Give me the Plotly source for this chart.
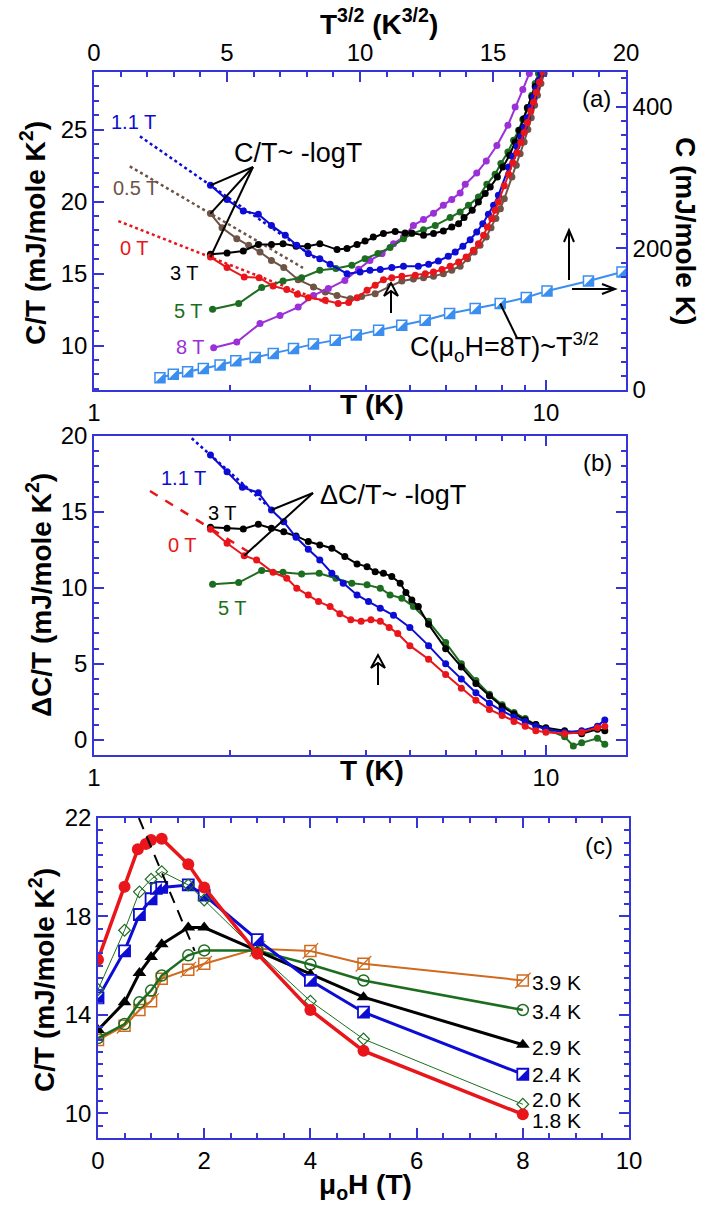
import numpy as np
import plotly.graph_objects as go

W, H = 704, 1207
FONT = "Liberation Sans, Arial, sans-serif"
AXC = "#3535d8"

RED, BLUE, BLACK = "#e8161b", "#0c0cd4", "#000000"
GREEN, BROWN, PURPLE = "#1d6d20", "#6f5347", "#9b30d8"
SKY, ORANGE = "#3a8ef0", "#cf6a1e"

# ---------------- (a) C/T versus T at fixed field ----------------
A_T_0T = [1.81, 1.97, 2.15, 2.32, 2.49, 2.67, 2.82, 2.98, 3.25, 3.47, 3.66, 3.82, 4.02, 4.19, 4.37,
          4.56, 4.80, 5.14, 5.41, 5.64, 5.89, 6.14, 6.41, 6.66, 6.91, 7.09, 7.28, 7.42, 7.59, 7.72,
          7.85, 8.09, 8.27, 8.45, 8.63, 8.80, 8.95, 9.10, 9.26, 9.39, 9.52, 9.68, 9.85]
A_CT_0T = [16.15, 15.42, 14.76, 14.72, 14.14, 13.89, 13.56, 13.33, 13.15, 12.92, 13.00, 13.33, 13.84,
           14.19, 14.58, 14.72, 14.81, 14.88, 15.00, 15.11, 15.28, 15.51, 15.81, 16.15, 16.62, 17.08,
           17.66, 18.24, 18.82, 19.40, 19.97, 21.1, 21.9, 22.7, 23.4, 24.1, 24.8, 25.5, 26.3, 26.9,
           27.6, 28.3, 29.0]

A_T_05T = [1.81, 1.92, 2.07, 2.20, 2.33, 2.47, 2.63, 2.83, 3.06, 3.25, 3.45, 3.69, 3.91, 4.19, 4.52,
           4.80, 5.09, 5.36, 5.64, 5.93, 6.19, 6.46, 6.71, 6.94, 7.15, 7.38, 7.56, 7.75, 7.93, 8.09,
           8.41, 8.60, 8.77, 8.95, 9.12, 9.28, 9.44, 9.58, 9.75, 9.91]
A_CT_05T = [19.17, 18.19, 17.43, 16.97, 16.50, 15.92, 15.42, 14.58, 14.07, 13.72, 13.49, 13.26, 13.42,
            13.61, 14.12, 14.49, 14.63, 14.72, 14.81, 15.00, 15.23, 15.51, 16.04, 16.50, 16.97, 17.54,
            18.19, 18.82, 19.51, 20.20, 21.71, 22.52, 23.33, 24.14, 25.00, 25.83, 26.69, 27.38, 28.2,
            28.9]

A_T_11T = [1.81, 1.97, 2.14, 2.31, 2.47, 2.65, 2.81, 2.98, 3.16, 3.33, 3.63, 3.88, 4.08, 4.30, 4.56,
           4.84, 5.22, 5.50, 5.78, 6.08, 6.30, 6.55, 6.80, 7.03, 7.25, 7.46, 7.66, 7.85, 8.27, 8.45,
           8.63, 8.80, 8.95, 9.10, 9.26, 9.39, 9.52, 9.63, 9.75]
A_CT_11T = [21.13, 20.14, 19.35, 19.12, 18.35, 17.66, 16.97, 16.39, 16.04, 15.65, 15.00, 15.11, 15.23,
            15.28, 15.42, 15.51, 15.51, 15.65, 15.88, 16.20, 16.50, 16.90, 17.36, 17.89, 18.47, 19.12,
            19.74, 20.44, 22.40, 23.15, 23.84, 24.53, 25.18, 25.83, 26.57, 27.27, 27.85, 28.4, 28.9]

A_T_3T = [1.81, 1.97, 2.14, 2.31, 2.47, 2.62, 2.80, 2.97, 3.16, 3.45, 3.63, 3.82, 3.98, 4.15, 4.37,
          4.64, 4.88, 5.05, 5.36, 5.64, 5.93, 6.19, 6.41, 6.59, 6.87, 7.09, 7.34, 7.53, 7.81, 8.03,
          8.31, 8.55, 8.74, 8.93, 9.10, 9.31, 9.47, 9.63, 9.76]
A_CT_3T = [16.34, 16.43, 16.57, 17.03, 17.03, 17.08, 16.90, 16.90, 17.08, 16.67, 16.74, 17.03, 17.26,
           17.54, 17.78, 17.92, 17.82, 17.82, 17.66, 17.78, 17.96, 18.24, 18.47, 18.89, 19.40, 19.97,
           20.56, 21.01, 21.71, 22.40, 23.22, 24.14, 24.95, 25.76, 26.53, 27.27, 28.0, 28.4, 28.9]

A_T_5T = [1.83, 2.09, 2.35, 2.62, 2.88, 3.16, 3.43, 3.72, 3.98, 4.25, 4.52, 4.84, 5.05, 5.36, 5.69,
          6.14, 6.46, 6.74, 7.09, 7.40, 7.72, 7.95, 8.24, 8.48, 8.70, 8.89, 9.10, 9.31, 9.47, 9.63]
A_CT_5T = [12.52, 12.92, 14.03, 14.49, 14.72, 15.23, 15.35, 15.58, 16.04, 16.40, 16.81, 17.43, 17.78,
           18.05, 18.35, 18.89, 19.28, 19.74, 20.32, 21.20, 21.90, 22.64, 23.44, 24.26, 24.95, 25.70,
           26.46, 27.38, 28.2, 28.9]

A_T_8T = [1.84, 2.07, 2.33, 2.58, 2.83, 3.06, 3.30, 3.59, 3.85, 4.08, 4.34, 4.60, 4.84, 5.09, 5.36,
          5.64, 5.93, 6.19, 6.46, 6.63, 7.03, 7.38, 7.79, 8.24, 8.55, 8.89, 9.19]
A_CT_8T = [9.86, 10.25, 11.53, 12.10, 12.68, 13.49, 13.96, 14.53, 15.30, 15.92, 16.39, 17.08, 17.54,
           18.35, 18.75, 19.20, 19.74, 20.14, 20.60, 21.20, 21.99, 22.82, 23.90, 25.30, 26.57, 27.78,
           28.9]

# -logT fits (end points)
A_FIT_0T_T, A_FIT_0T_CT = [1.132, 3.3], [18.65, 12.93]
A_FIT_05T_T, A_FIT_05T_CT = [1.20, 2.9], [22.45, 15.40]
A_FIT_11T_T, A_FIT_11T_CT = [1.264, 3.2], [24.53, 15.74]

# C at 8 T against T^(3/2)
A_T32_8T = [2.48, 2.98, 3.52, 4.11, 4.74, 5.33, 6.06, 6.74, 7.50, 8.25, 9.07, 9.86, 10.70, 11.57,
            12.45, 13.37, 14.33, 15.27, 16.25, 17.03, 18.59, 19.85]
A_C_8T = [17.3, 22.1, 25.8, 30.5, 35.2, 41.3, 46.0, 51.7, 58.7, 64.8, 70.4, 77.5, 84.5, 91.5, 98.6,
          108.0, 115.0, 122.1, 130.5, 139.9, 154.0, 166.7]

# ---------------- (b) magnetic part dC/T ----------------
B_T_0T = [1.81, 1.97, 2.15, 2.29, 2.49, 2.67, 2.81, 2.98, 3.14, 3.33, 3.50, 3.70, 3.90, 4.10, 4.30,
          4.50, 4.70, 5.00, 5.50, 6.00, 6.50, 7.00, 7.50, 8.00, 8.50, 9.00, 9.50, 10.0, 11.0, 12.0,
          13.0, 13.5]
B_V_0T = [13.86, 12.94, 12.12, 11.84, 11.03, 10.64, 9.98, 9.54, 9.10, 8.77, 8.30, 7.90, 7.80, 7.90,
          7.80, 7.40, 7.00, 6.20, 5.30, 4.30, 3.40, 2.60, 2.00, 1.60, 1.20, 0.90, 0.60, 0.50, 0.40,
          0.50, 0.80, 0.90]

B_T_11T = [1.81, 1.97, 2.13, 2.31, 2.47, 2.63, 2.80, 2.98, 3.16, 3.36, 3.56, 3.82, 4.05, 4.30, 4.60,
           5.00, 5.50, 6.00, 6.50, 7.00, 7.50, 8.00, 8.50, 9.00, 9.50, 10.0, 11.0, 12.0, 13.0, 13.5]
B_V_11T = [18.75, 17.65, 16.62, 16.27, 15.13, 14.36, 13.33, 12.54, 11.84, 10.97, 10.31, 9.54, 9.10,
           8.66, 8.20, 7.40, 6.20, 5.00, 4.00, 3.10, 2.40, 1.90, 1.50, 1.20, 0.90, 0.70, 0.50, 0.60,
           0.90, 1.30]

B_T_3T = [1.81, 1.97, 2.14, 2.31, 2.47, 2.63, 2.80, 2.98, 3.16, 3.36, 3.59, 3.82, 4.02, 4.19, 4.37,
          4.56, 4.76, 4.90, 5.05, 5.22, 5.50, 6.00, 6.50, 7.00, 7.50, 8.00, 8.50, 9.00, 9.50, 10.0,
          11.0, 12.0, 13.0, 13.5]
B_V_3T = [13.99, 13.92, 13.88, 14.19, 13.92, 13.70, 13.42, 13.05, 12.83, 12.61, 12.06, 11.58, 11.40,
          11.07, 10.97, 10.75, 10.31, 9.70, 9.21, 8.77, 7.60, 6.00, 4.80, 3.70, 2.90, 2.20, 1.70,
          1.30, 1.00, 0.80, 0.60, 0.40, 0.70, 0.60]

B_T_5T = [1.83, 2.09, 2.35, 2.62, 2.88, 3.15, 3.43, 3.72, 4.02, 4.30, 4.52, 4.80, 5.09, 5.50, 6.00,
          6.50, 7.00, 7.50, 8.00, 8.50, 9.00, 9.50, 10.0, 11.0, 11.5, 12.0, 13.0, 13.5]
B_V_5T = [10.24, 10.35, 11.14, 11.03, 10.92, 10.97, 10.64, 10.31, 10.20, 9.98, 9.54, 9.32, 8.77, 7.80,
          6.40, 5.00, 3.90, 3.00, 2.30, 1.80, 1.40, 1.00, 0.70, 0.20, -0.40, -0.20, 0.10, -0.30]

B_FIT_0T_T, B_FIT_0T_V = [1.33, 2.2], [16.38, 12.36]
B_FIT_11T_T, B_FIT_11T_V = [1.645, 2.4], [19.85, 15.5]

# ---------------- (c) C/T versus field at fixed T ----------------
C_H_18K = [0, 0.5, 0.75, 0.9, 1.0, 1.2, 1.7, 2.0, 3, 4, 5, 8]
C_V_18K = [16.24, 19.21, 20.73, 20.94, 21.11, 21.16, 20.12, 19.18, 16.49, 14.20, 12.54, 9.96]
C_H_20K = [0, 0.5, 0.78, 1.0, 1.2, 1.7, 2.0, 3, 4, 5, 8]
C_V_20K = [15.03, 17.44, 19.00, 19.51, 19.82, 19.28, 18.67, 16.56, 14.56, 13.02, 10.37]
C_H_24K = [0, 0.5, 0.78, 1.0, 1.1, 1.2, 1.7, 2.0, 3, 4, 5, 8]
C_V_24K = [14.69, 16.60, 18.08, 18.72, 19.14, 19.18, 19.28, 18.87, 17.06, 15.40, 14.11, 11.59]
C_H_29K = [0, 0.5, 0.78, 1.0, 1.2, 1.7, 2.0, 3, 4, 5, 8]
C_V_29K = [13.39, 14.51, 15.70, 16.35, 16.87, 17.55, 17.55, 16.60, 15.64, 14.72, 12.79]
C_H_34K = [0, 0.5, 0.78, 1.0, 1.2, 1.7, 2.0, 3, 4, 5, 8]
C_V_34K = [13.06, 13.63, 14.51, 14.99, 15.60, 16.42, 16.62, 16.62, 16.05, 15.40, 14.20]
C_H_39K = [0, 0.5, 0.78, 1.0, 1.2, 1.7, 2.0, 3, 4, 5, 8]
C_V_39K = [12.98, 13.56, 14.20, 14.56, 15.47, 15.84, 16.08, 16.69, 16.60, 16.08, 15.40]
C_PEAK_H, C_PEAK_V = [0.77, 1.82], [22.0, 16.6]

# ---------------- geometry ----------------
FA = (94, 626, 72, 390)     # left, right, top, bottom in px
FB = (94, 626, 436, 755)
FC = (98, 629, 818, 1138)
LOG_R = [0.0, float(np.log10(15.04))]
A_YR, A_Y2R, A_X2R = [6.92, 29.0], [0.0, 449.0], [0.0, 20.0]
B_YR = [-1.0, 20.0]
C_XR, C_YR = [0.0, 10.0], [9.0, 22.0]


def dom_x(f):
    return [f[0] / W, f[1] / W]


def dom_y(f):
    return [1 - f[3] / H, 1 - f[2] / H]


def lin(v, r, p0, p1):
    return p0 + (v - r[0]) / (r[1] - r[0]) * (p1 - p0)


def px_log(f, t):
    return lin(np.log10(t), LOG_R, f[0], f[1])


def px_y(f, v, r):
    return lin(v, r, f[3], f[2])


def px_x(f, v, r):
    return lin(v, r, f[0], f[1])


def paper(xp, yp):
    return xp / W, 1 - yp / H


fig = go.Figure()


def add_line(x, y, color, xa, ya, width=2.0, size=7, symbol="circle", mode="lines+markers",
             dash=None, mfill=None, mline=0):
    fig.add_trace(go.Scatter(
        x=x, y=y, xaxis=xa, yaxis=ya, mode=mode,
        line=dict(color=color, width=width, dash=dash),
        marker=dict(size=size, symbol=symbol, color=mfill if mfill else color,
                    line=dict(color=color, width=mline)),
        hoverinfo="skip"))


def half_square(x, y, color, xa, ya, size, xr, yr, fx, fy):
    # triangle filling the lower-right half of each open square
    ux = (fx[1] - fx[0]) / (xr[1] - xr[0])
    uy = (fy[1] - fy[0]) / (yr[1] - yr[0])
    sh = size / 6.0
    fig.add_trace(go.Scatter(
        x=[v + sh / ux for v in x], y=[v - sh / uy for v in y], xaxis=xa, yaxis=ya,
        mode="markers", marker=dict(size=size / 0.9, symbol="triangle-se", color=color,
                                    line=dict(width=0)),
        hoverinfo="skip"))


# (a)
add_line(A_T32_8T, A_C_8T, SKY, "x2", "y2", width=2, size=10, symbol="square", mfill="white", mline=1.5)
half_square(A_T32_8T, A_C_8T, SKY, "x2", "y2", 10, A_X2R, A_Y2R, (FA[0], FA[1]), (FA[2], FA[3]))
for t, v, c in [(A_FIT_0T_T, A_FIT_0T_CT, RED), (A_FIT_05T_T, A_FIT_05T_CT, BROWN),
                (A_FIT_11T_T, A_FIT_11T_CT, BLUE)]:
    add_line(t, v, c, "x", "y", width=2.5, mode="lines", dash="dot")
for t, v, c in [(A_T_05T, A_CT_05T, BROWN), (A_T_8T, A_CT_8T, PURPLE), (A_T_5T, A_CT_5T, GREEN),
                (A_T_3T, A_CT_3T, BLACK), (A_T_11T, A_CT_11T, BLUE), (A_T_0T, A_CT_0T, RED)]:
    add_line(t, v, c, "x", "y", width=2, size=7)

# (b)
add_line(B_FIT_0T_T, B_FIT_0T_V, RED, "x3", "y3", width=2.5, mode="lines", dash="dash")
add_line(B_FIT_11T_T, B_FIT_11T_V, BLUE, "x3", "y3", width=2.5, mode="lines", dash="dot")
for t, v, c in [(B_T_5T, B_V_5T, GREEN), (B_T_3T, B_V_3T, BLACK), (B_T_11T, B_V_11T, BLUE),
                (B_T_0T, B_V_0T, RED)]:
    add_line(t, v, c, "x3", "y3", width=2, size=7)

# (c)
add_line(C_H_39K, C_V_39K, ORANGE, "x4", "y4", width=2, size=11, symbol="square-open", mline=1.5)
add_line(C_H_39K, C_V_39K, ORANGE, "x4", "y4", size=15.5, symbol="line-ne", mode="markers", mline=1.2)
add_line(C_H_34K, C_V_34K, GREEN, "x4", "y4", width=2.5, size=11, symbol="circle-open", mline=1.5)
add_line(C_H_29K, C_V_29K, BLACK, "x4", "y4", width=3, size=12, symbol="triangle-up")
add_line(C_H_24K, C_V_24K, BLUE, "x4", "y4", width=3, size=11, symbol="square", mfill="white", mline=1.8)
half_square(C_H_24K, C_V_24K, BLUE, "x4", "y4", 11, C_XR, C_YR, (FC[0], FC[1]), (FC[2], FC[3]))
add_line(C_H_20K, C_V_20K, GREEN, "x4", "y4", width=1, size=9, symbol="diamond-open", mline=1.2)
add_line(C_H_18K, C_V_18K, RED, "x4", "y4", width=3.5, size=12)
add_line(C_PEAK_H, C_PEAK_V, BLACK, "x4", "y4", width=2, mode="lines", dash="12px,8px")

# ---------------- axes ----------------
TICKF = dict(family=FONT, size=24, color="black")


def axis_style(**kw):
    d = dict(showline=True, linecolor=AXC, linewidth=1.5, ticks="inside", ticklen=10,
             tickwidth=1.5, tickcolor=AXC, showgrid=False, zeroline=False, tickfont=TICKF,
             automargin=False)
    d.update(kw)
    return d


MINOR = dict(ticklen=5, tickwidth=1.5, tickcolor=AXC, ticks="inside", showgrid=False)

fig.update_layout(
    width=W, height=H, margin=dict(l=0, r=0, t=0, b=0), showlegend=False,
    plot_bgcolor="white", paper_bgcolor="white", font=dict(family=FONT),
    xaxis=axis_style(domain=dom_x(FA), anchor="y", type="log", range=LOG_R, tickvals=[1, 10],
                     ticktext=["1", "10"], minor=dict(MINOR, tickvals=list(range(2, 10)))),
    xaxis2=axis_style(overlaying="x", side="top", anchor="y", range=A_X2R, tickvals=[0, 5, 10, 15, 20],
                      minor=dict(MINOR, dtick=1)),
    yaxis=axis_style(domain=dom_y(FA), anchor="x", range=A_YR, tickvals=[10, 15, 20, 25],
                     minor=dict(MINOR, dtick=1, tick0=0)),
    yaxis2=axis_style(overlaying="y", side="right", anchor="x", range=A_Y2R, tickvals=[0, 200, 400],
                      minor=dict(MINOR, dtick=20, tick0=0)),
    xaxis3=axis_style(domain=dom_x(FB), anchor="y3", type="log", range=LOG_R, tickvals=[1, 10],
                      ticktext=["1", "10"], mirror="ticks",
                      minor=dict(MINOR, tickvals=list(range(2, 10)))),
    yaxis3=axis_style(domain=dom_y(FB), anchor="x3", range=B_YR, tickvals=[0, 5, 10, 15, 20],
                      mirror="ticks", minor=dict(MINOR, dtick=1, tick0=0)),
    xaxis4=axis_style(domain=dom_x(FC), anchor="y4", range=C_XR, tickvals=[0, 2, 4, 6, 8, 10],
                      mirror="ticks", minor=dict(MINOR, dtick=0.5, tick0=0)),
    yaxis4=axis_style(domain=dom_y(FC), anchor="x4", range=C_YR, tickvals=[10, 14, 18, 22],
                      mirror="ticks", minor=dict(MINOR, dtick=0.5, tick0=0)),
    # unlabelled long ticks at 12, 16, 20 on the (c) field axis
    yaxis5=axis_style(overlaying="y4", anchor="x4", range=C_YR, tickvals=[12, 16, 20],
                      showticklabels=False, showline=False, mirror="ticks"),
)

# ---------------- text ----------------
ann = []


def text(xp, yp, s, size=24, color="black", angle=0, xanchor="center", bold=False):
    x, y = paper(xp, yp)
    ann.append(dict(x=x, y=y, xref="paper", yref="paper", text=f"<b>{s}</b>" if bold else s,
                    showarrow=False, textangle=angle, xanchor=xanchor, yanchor="middle",
                    font=dict(family=FONT, size=size, color=color)))


# axis titles
text(379, 22, "T<sup>3/2</sup> (K<sup>3/2</sup>)", 28, bold=True)
text(372, 404, "T (K)", 28, bold=True)
text(33, 233, "C/T (mJ/mole K<sup>2</sup>)", 28, angle=-90, bold=True)
text(686, 231, "C (mJ/mole K)", 28, angle=90, bold=True)
text(39, 595, "ΔC/T (mJ/mole K<sup>2</sup>)", 28, angle=-90, bold=True)
text(372, 770, "T (K)", 28, bold=True)
text(42, 980, "C/T (mJ/mole K<sup>2</sup>)", 28, angle=-90, bold=True)
text(365, 1186, "μ<sub>o</sub>H (T)", 28, bold=True)

# panel tags
text(596, 98, "(a)")
text(597, 462, "(b)")
text(599, 845, "(c)")

# field labels
for xp, yp, s, c in [(133, 122, "1.1 T", BLUE), (135, 188, "0.5 T", BROWN), (134, 248, "0 T", RED),
                     (185, 273, "3 T", BLACK), (188, 311, "5 T", GREEN), (190, 347, "8 T", PURPLE),
                     (183, 478, "1.1 T", BLUE), (222, 513, "3 T", BLACK), (182, 545, "0 T", RED),
                     (232, 608, "5 T", GREEN)]:
    text(xp, yp, s, 20, c)
for yp, s in [(982, "3.9 K"), (1011, "3.4 K"), (1047, "2.9 K"), (1074, "2.4 K"), (1099, "2.0 K"),
              (1120, "1.8 K")]:
    text(530, yp, s, 21, xanchor="left")

text(298, 153, "C/T~ -logT", 27)
text(393, 495, "ΔC/T~ -logT", 27)
text(504, 347, "C(μ<sub>o</sub>H=8T)~T<sup>3/2</sup>", 27)
fig.update_layout(annotations=ann)

# ---------------- pointer lines and arrows ----------------
shapes = []


def seg(p, q, width=2, color="black"):
    x0, y0 = paper(*p)
    x1, y1 = paper(*q)
    shapes.append(dict(type="line", xref="paper", yref="paper", x0=x0, y0=y0, x1=x1, y1=y1,
                       line=dict(color=color, width=width)))


def path(pts, closed=False, fill="rgba(0,0,0,0)"):
    d = "M " + " L ".join("%.5f,%.5f" % paper(*p) for p in pts) + (" Z" if closed else "")
    shapes.append(dict(type="path", xref="paper", yref="paper", path=d,
                       line=dict(color="black", width=2), fillcolor=fill))


apex_a = (253, 167)
for t, v in [(A_T_11T[0], A_CT_11T[0]), (A_T_05T[0], A_CT_05T[0]), (A_T_0T[0], A_CT_0T[0])]:
    seg(apex_a, (px_log(FA, t), px_y(FA, v, A_YR)))
apex_b = (313, 493)
for t, v in [(B_T_11T[4], B_V_11T[4]), (B_T_0T[2], B_V_0T[2])]:
    seg(apex_b, (px_log(FB, t), px_y(FB, v, B_YR)))

# label line to the T^(3/2) curve
seg((517, 338), (px_x(FA, A_T32_8T[17], A_X2R), px_y(FA, A_C_8T[17], A_Y2R)))

# axis-pointing arrows: up -> left axis, right -> right axis
seg((569, 280), (569, 231))
path([(564, 242), (569, 230), (574, 242)])
seg((572, 289), (614, 289))
path([(602, 284), (615, 289), (602, 294)])


def hollow_arrow(xp, tip, tail):
    path([(xp - 7, tip + 13), (xp, tip), (xp + 7, tip + 13), (xp, tip + 8)], closed=True, fill="white")
    seg((xp, tip + 8), (xp, tail))


hollow_arrow(391, 283, 313)
hollow_arrow(378, 655, 685)
fig.update_layout(shapes=shapes)

fig.write_html("out.html")
